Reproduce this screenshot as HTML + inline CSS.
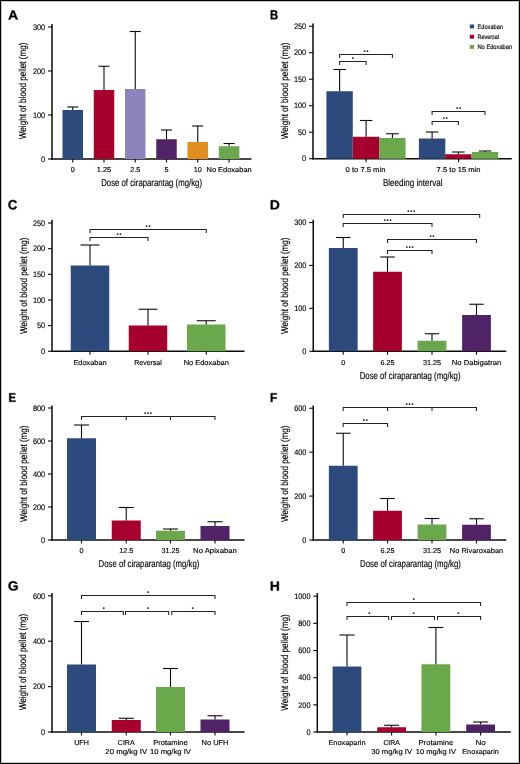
<!DOCTYPE html><html><head><meta charset="utf-8"><style>html,body{margin:0;padding:0;background:#fff}text{stroke:#000;stroke-width:0.15px}svg{display:block;text-rendering:geometricPrecision;will-change:transform;filter:blur(0.3px)}</style></head><body>
<svg width="520" height="764" viewBox="0 0 520 764" font-family="Liberation Sans, sans-serif">
<rect x="0" y="0" width="520" height="764" fill="#fff"/>
<path transform="translate(8.105,19.450) scale(0.006769,-0.006352)" d="M1133 0 1008 360H471L346 0H51L565 1409H913L1425 0ZM739 1192 733 1170Q723 1134 709.0 1088.0Q695 1042 537 582H942L803 987L760 1123Z" fill="#000" stroke="#000" stroke-width="53.35"/>
<line x1="52" y1="24" x2="52" y2="159.75" stroke="#0a0a0a" stroke-width="1.5"/>
<line x1="51.25" y1="159" x2="251.5" y2="159" stroke="#0a0a0a" stroke-width="1.5"/>
<line x1="48" y1="159.0" x2="52" y2="159.0" stroke="#0a0a0a" stroke-width="1.1"/>
<text transform="translate(45.2,161.7) scale(0.92,1)" font-size="8" text-anchor="end" font-weight="normal" fill="#000">0</text>
<line x1="48" y1="115.0" x2="52" y2="115.0" stroke="#0a0a0a" stroke-width="1.1"/>
<text transform="translate(45.2,117.7) scale(0.92,1)" font-size="8" text-anchor="end" font-weight="normal" fill="#000">100</text>
<line x1="48" y1="71.0" x2="52" y2="71.0" stroke="#0a0a0a" stroke-width="1.1"/>
<text transform="translate(45.2,73.7) scale(0.92,1)" font-size="8" text-anchor="end" font-weight="normal" fill="#000">200</text>
<line x1="48" y1="27.0" x2="52" y2="27.0" stroke="#0a0a0a" stroke-width="1.1"/>
<text transform="translate(45.2,29.7) scale(0.92,1)" font-size="8" text-anchor="end" font-weight="normal" fill="#000">300</text>
<rect x="62.5" y="110" width="20.5" height="49" fill="#2d4a7c"/>
<line x1="72.75" y1="107" x2="72.75" y2="110" stroke="#0a0a0a" stroke-width="1.1"/>
<line x1="67.25" y1="107" x2="78.25" y2="107" stroke="#0a0a0a" stroke-width="1.1"/>
<line x1="72.75" y1="159" x2="72.75" y2="162.5" stroke="#0a0a0a" stroke-width="1.1"/>
<text x="72.75" y="172.4" font-size="7.2" text-anchor="middle" font-weight="normal" fill="#000">0</text>
<rect x="93.75" y="90" width="20.5" height="69" fill="#a5002e"/>
<line x1="104" y1="66.25" x2="104" y2="90" stroke="#0a0a0a" stroke-width="1.1"/>
<line x1="98.5" y1="66.25" x2="109.5" y2="66.25" stroke="#0a0a0a" stroke-width="1.1"/>
<line x1="104" y1="159" x2="104" y2="162.5" stroke="#0a0a0a" stroke-width="1.1"/>
<text x="104" y="172.4" font-size="7.2" text-anchor="middle" font-weight="normal" fill="#000" textLength="14.4" lengthAdjust="spacingAndGlyphs">1.25</text>
<rect x="125.0" y="89" width="20.5" height="70" fill="#8c84bd"/>
<line x1="135.25" y1="31.5" x2="135.25" y2="89" stroke="#0a0a0a" stroke-width="1.1"/>
<line x1="129.75" y1="31.5" x2="140.75" y2="31.5" stroke="#0a0a0a" stroke-width="1.1"/>
<line x1="135.25" y1="159" x2="135.25" y2="162.5" stroke="#0a0a0a" stroke-width="1.1"/>
<text x="135.25" y="172.4" font-size="7.2" text-anchor="middle" font-weight="normal" fill="#000">2.5</text>
<rect x="156.25" y="139.25" width="20.5" height="19.75" fill="#4f2366"/>
<line x1="166.5" y1="130" x2="166.5" y2="139.25" stroke="#0a0a0a" stroke-width="1.1"/>
<line x1="161.0" y1="130" x2="172.0" y2="130" stroke="#0a0a0a" stroke-width="1.1"/>
<line x1="166.5" y1="159" x2="166.5" y2="162.5" stroke="#0a0a0a" stroke-width="1.1"/>
<text x="166.5" y="172.4" font-size="7.2" text-anchor="middle" font-weight="normal" fill="#000">5</text>
<rect x="187.5" y="142" width="20.5" height="17" fill="#e08f1f"/>
<line x1="197.75" y1="126" x2="197.75" y2="142" stroke="#0a0a0a" stroke-width="1.1"/>
<line x1="192.25" y1="126" x2="203.25" y2="126" stroke="#0a0a0a" stroke-width="1.1"/>
<line x1="197.75" y1="159" x2="197.75" y2="162.5" stroke="#0a0a0a" stroke-width="1.1"/>
<text x="197.75" y="172.4" font-size="7.2" text-anchor="middle" font-weight="normal" fill="#000">10</text>
<rect x="218.85" y="146.25" width="20.5" height="12.75" fill="#6aa84b"/>
<line x1="229.1" y1="143.5" x2="229.1" y2="146.25" stroke="#0a0a0a" stroke-width="1.1"/>
<line x1="223.6" y1="143.5" x2="234.6" y2="143.5" stroke="#0a0a0a" stroke-width="1.1"/>
<line x1="229.1" y1="159" x2="229.1" y2="162.5" stroke="#0a0a0a" stroke-width="1.1"/>
<text x="229.1" y="172.4" font-size="7.2" text-anchor="middle" font-weight="normal" fill="#000" textLength="45.2" lengthAdjust="spacingAndGlyphs">No Edoxaban</text>
<text x="151.6" y="186.3" font-size="10" text-anchor="middle" fill="#000" textLength="100.8" lengthAdjust="spacingAndGlyphs">Dose of ciraparantag (mg/kg)</text>
<text transform="translate(26.3,90.9) rotate(-90)" font-size="10" text-anchor="middle" fill="#000" textLength="96.5" lengthAdjust="spacingAndGlyphs">Weight of blood pellet (mg)</text>
<path transform="translate(269.993,19.350) scale(0.005524,-0.006458)" d="M1386 402Q1386 210 1242.0 105.0Q1098 0 842 0H137V1409H782Q1040 1409 1172.5 1319.5Q1305 1230 1305 1055Q1305 935 1238.5 852.5Q1172 770 1036 741Q1207 721 1296.5 633.5Q1386 546 1386 402ZM1008 1015Q1008 1110 947.5 1150.0Q887 1190 768 1190H432V841H770Q895 841 951.5 884.5Q1008 928 1008 1015ZM1090 425Q1090 623 806 623H432V219H817Q959 219 1024.5 270.5Q1090 322 1090 425Z" fill="#000" stroke="#000" stroke-width="58.42"/>
<line x1="313" y1="23.5" x2="313" y2="159.5" stroke="#0a0a0a" stroke-width="1.5"/>
<line x1="312.25" y1="158.75" x2="511.75" y2="158.75" stroke="#0a0a0a" stroke-width="1.5"/>
<line x1="309" y1="158.75" x2="313" y2="158.75" stroke="#0a0a0a" stroke-width="1.1"/>
<text transform="translate(306.2,161.45) scale(0.92,1)" font-size="8" text-anchor="end" font-weight="normal" fill="#000">0</text>
<line x1="309" y1="132.25" x2="313" y2="132.25" stroke="#0a0a0a" stroke-width="1.1"/>
<text transform="translate(306.2,134.95) scale(0.92,1)" font-size="8" text-anchor="end" font-weight="normal" fill="#000">50</text>
<line x1="309" y1="105.75" x2="313" y2="105.75" stroke="#0a0a0a" stroke-width="1.1"/>
<text transform="translate(306.2,108.45) scale(0.92,1)" font-size="8" text-anchor="end" font-weight="normal" fill="#000">100</text>
<line x1="309" y1="79.25" x2="313" y2="79.25" stroke="#0a0a0a" stroke-width="1.1"/>
<text transform="translate(306.2,81.95) scale(0.92,1)" font-size="8" text-anchor="end" font-weight="normal" fill="#000">150</text>
<line x1="309" y1="52.75" x2="313" y2="52.75" stroke="#0a0a0a" stroke-width="1.1"/>
<text transform="translate(306.2,55.45) scale(0.92,1)" font-size="8" text-anchor="end" font-weight="normal" fill="#000">200</text>
<line x1="309" y1="26.25" x2="313" y2="26.25" stroke="#0a0a0a" stroke-width="1.1"/>
<text transform="translate(306.2,28.95) scale(0.92,1)" font-size="8" text-anchor="end" font-weight="normal" fill="#000">250</text>
<rect x="326.40000000000003" y="91.25" width="26.4" height="67.5" fill="#2d4a7c"/>
<line x1="339.6" y1="69.5" x2="339.6" y2="91.25" stroke="#0a0a0a" stroke-width="1.1"/>
<line x1="333.35" y1="69.5" x2="345.85" y2="69.5" stroke="#0a0a0a" stroke-width="1.1"/>
<rect x="352.90000000000003" y="136.75" width="26.4" height="22.0" fill="#a5002e"/>
<line x1="366.1" y1="120.5" x2="366.1" y2="136.75" stroke="#0a0a0a" stroke-width="1.1"/>
<line x1="359.85" y1="120.5" x2="372.35" y2="120.5" stroke="#0a0a0a" stroke-width="1.1"/>
<rect x="379.2" y="138" width="26.4" height="20.75" fill="#6aa84b"/>
<line x1="392.4" y1="133.75" x2="392.4" y2="138" stroke="#0a0a0a" stroke-width="1.1"/>
<line x1="386.15" y1="133.75" x2="398.65" y2="133.75" stroke="#0a0a0a" stroke-width="1.1"/>
<rect x="418.90000000000003" y="138.5" width="26.4" height="20.25" fill="#2d4a7c"/>
<line x1="432.1" y1="132" x2="432.1" y2="138.5" stroke="#0a0a0a" stroke-width="1.1"/>
<line x1="425.85" y1="132" x2="438.35" y2="132" stroke="#0a0a0a" stroke-width="1.1"/>
<rect x="445.2" y="154.25" width="26.4" height="4.5" fill="#a5002e"/>
<line x1="458.4" y1="152" x2="458.4" y2="154.25" stroke="#0a0a0a" stroke-width="1.1"/>
<line x1="452.15" y1="152" x2="464.65" y2="152" stroke="#0a0a0a" stroke-width="1.1"/>
<rect x="471.8" y="152" width="26.4" height="6.75" fill="#6aa84b"/>
<line x1="485" y1="151" x2="485" y2="152" stroke="#0a0a0a" stroke-width="1.1"/>
<line x1="478.75" y1="151" x2="491.25" y2="151" stroke="#0a0a0a" stroke-width="1.1"/>
<line x1="366.1" y1="158.75" x2="366.1" y2="162.25" stroke="#0a0a0a" stroke-width="1.1"/>
<line x1="458.6" y1="158.75" x2="458.6" y2="162.25" stroke="#0a0a0a" stroke-width="1.1"/>
<text x="365.5" y="172.4" font-size="7.2" text-anchor="middle" font-weight="normal" fill="#000" textLength="39.8" lengthAdjust="spacingAndGlyphs">0 to 7.5 min</text>
<text x="458.6" y="172.4" font-size="7.2" text-anchor="middle" font-weight="normal" fill="#000" textLength="44" lengthAdjust="spacingAndGlyphs">7.5 to 15 min</text>
<text x="412.7" y="186.3" font-size="10" text-anchor="middle" fill="#000" textLength="59.5" lengthAdjust="spacingAndGlyphs">Bleeding interval</text>
<text transform="translate(288,90.9) rotate(-90)" font-size="10" text-anchor="middle" fill="#000" textLength="96.5" lengthAdjust="spacingAndGlyphs">Weight of blood pellet (mg)</text>
<path d="M339.6,58.0 L339.6,54.5 L392.4,54.5 L392.4,58.0" fill="none" stroke="#222222" stroke-width="1.05"/>
<circle cx="364.55" cy="51.1" r="0.9" fill="#111"/>
<circle cx="367.45" cy="51.1" r="0.9" fill="#111"/>
<path d="M339.6,65.0 L339.6,61.5 L366.1,61.5 L366.1,65.0" fill="none" stroke="#222222" stroke-width="1.05"/>
<circle cx="352.85" cy="58.1" r="0.9" fill="#111"/>
<path d="M432.1,115.0 L432.1,111.5 L485,111.5 L485,115.0" fill="none" stroke="#222222" stroke-width="1.05"/>
<circle cx="457.10" cy="108.1" r="0.9" fill="#111"/>
<circle cx="460.00" cy="108.1" r="0.9" fill="#111"/>
<path d="M432.1,125.0 L432.1,121.5 L458.4,121.5 L458.4,125.0" fill="none" stroke="#222222" stroke-width="1.05"/>
<circle cx="443.80" cy="118.1" r="0.9" fill="#111"/>
<circle cx="446.70" cy="118.1" r="0.9" fill="#111"/>
<rect x="469.8" y="24.5" width="4.3" height="3.9" fill="#2d4a7c"/>
<text x="477.5" y="28.55" font-size="6.4" text-anchor="start" font-weight="normal" fill="#000" textLength="25.5" lengthAdjust="spacingAndGlyphs">Edoxaban</text>
<rect x="469.8" y="34.75" width="4.3" height="3.9" fill="#a5002e"/>
<text x="477.5" y="38.800000000000004" font-size="6.4" text-anchor="start" font-weight="normal" fill="#000" textLength="21.6" lengthAdjust="spacingAndGlyphs">Reversal</text>
<rect x="469.8" y="45.0" width="4.3" height="3.9" fill="#6aa84b"/>
<text x="477.5" y="49.050000000000004" font-size="6.4" text-anchor="start" font-weight="normal" fill="#000" textLength="34.6" lengthAdjust="spacingAndGlyphs">No Edoxaban</text>
<path transform="translate(7.923,209.418) scale(0.006273,-0.006621)" d="M795 212Q1062 212 1166 480L1423 383Q1340 179 1179.5 79.5Q1019 -20 795 -20Q455 -20 269.5 172.5Q84 365 84 711Q84 1058 263.0 1244.0Q442 1430 782 1430Q1030 1430 1186.0 1330.5Q1342 1231 1405 1038L1145 967Q1112 1073 1015.5 1135.5Q919 1198 788 1198Q588 1198 484.5 1074.0Q381 950 381 711Q381 468 487.5 340.0Q594 212 795 212Z" fill="#000" stroke="#000" stroke-width="54.29"/>
<line x1="52" y1="219.8" x2="52" y2="352.0" stroke="#0a0a0a" stroke-width="1.5"/>
<line x1="51.25" y1="351.25" x2="244.5" y2="351.25" stroke="#0a0a0a" stroke-width="1.5"/>
<line x1="48" y1="351.25" x2="52" y2="351.25" stroke="#0a0a0a" stroke-width="1.1"/>
<text transform="translate(45.2,353.95) scale(0.92,1)" font-size="8" text-anchor="end" font-weight="normal" fill="#000">0</text>
<line x1="48" y1="325.6" x2="52" y2="325.6" stroke="#0a0a0a" stroke-width="1.1"/>
<text transform="translate(45.2,328.3) scale(0.92,1)" font-size="8" text-anchor="end" font-weight="normal" fill="#000">50</text>
<line x1="48" y1="299.95" x2="52" y2="299.95" stroke="#0a0a0a" stroke-width="1.1"/>
<text transform="translate(45.2,302.65) scale(0.92,1)" font-size="8" text-anchor="end" font-weight="normal" fill="#000">100</text>
<line x1="48" y1="274.3" x2="52" y2="274.3" stroke="#0a0a0a" stroke-width="1.1"/>
<text transform="translate(45.2,277.0) scale(0.92,1)" font-size="8" text-anchor="end" font-weight="normal" fill="#000">150</text>
<line x1="48" y1="248.64999999999998" x2="52" y2="248.64999999999998" stroke="#0a0a0a" stroke-width="1.1"/>
<text transform="translate(45.2,251.34999999999997) scale(0.92,1)" font-size="8" text-anchor="end" font-weight="normal" fill="#000">200</text>
<line x1="48" y1="223.0" x2="52" y2="223.0" stroke="#0a0a0a" stroke-width="1.1"/>
<text transform="translate(45.2,225.7) scale(0.92,1)" font-size="8" text-anchor="end" font-weight="normal" fill="#000">250</text>
<rect x="70.75" y="265.5" width="38.5" height="85.75" fill="#2d4a7c"/>
<line x1="90" y1="245" x2="90" y2="265.5" stroke="#0a0a0a" stroke-width="1.1"/>
<line x1="80.5" y1="245" x2="99.5" y2="245" stroke="#0a0a0a" stroke-width="1.1"/>
<line x1="90" y1="351.25" x2="90" y2="354.75" stroke="#0a0a0a" stroke-width="1.1"/>
<text x="90" y="364.8" font-size="7.2" text-anchor="middle" font-weight="normal" fill="#000" textLength="33.25" lengthAdjust="spacingAndGlyphs">Edoxaban</text>
<rect x="128.75" y="325.5" width="38.5" height="25.75" fill="#a5002e"/>
<line x1="148" y1="309.25" x2="148" y2="325.5" stroke="#0a0a0a" stroke-width="1.1"/>
<line x1="138.5" y1="309.25" x2="157.5" y2="309.25" stroke="#0a0a0a" stroke-width="1.1"/>
<line x1="148" y1="351.25" x2="148" y2="354.75" stroke="#0a0a0a" stroke-width="1.1"/>
<text x="148" y="364.8" font-size="7.2" text-anchor="middle" font-weight="normal" fill="#000" textLength="27.5" lengthAdjust="spacingAndGlyphs">Reversal</text>
<rect x="187.0" y="324.5" width="38.5" height="26.75" fill="#6aa84b"/>
<line x1="206.25" y1="320.75" x2="206.25" y2="324.5" stroke="#0a0a0a" stroke-width="1.1"/>
<line x1="196.75" y1="320.75" x2="215.75" y2="320.75" stroke="#0a0a0a" stroke-width="1.1"/>
<line x1="206.25" y1="351.25" x2="206.25" y2="354.75" stroke="#0a0a0a" stroke-width="1.1"/>
<text x="206.25" y="364.8" font-size="7.2" text-anchor="middle" font-weight="normal" fill="#000" textLength="45.2" lengthAdjust="spacingAndGlyphs">No Edoxaban</text>
<text transform="translate(26.6,285.7) rotate(-90)" font-size="10" text-anchor="middle" fill="#000" textLength="96.5" lengthAdjust="spacingAndGlyphs">Weight of blood pellet (mg)</text>
<path d="M90,233.0 L90,229.5 L206.25,229.5 L206.25,233.0" fill="none" stroke="#222222" stroke-width="1.05"/>
<circle cx="146.68" cy="226.1" r="0.9" fill="#111"/>
<circle cx="149.57" cy="226.1" r="0.9" fill="#111"/>
<path d="M90,241.0 L90,237.5 L148,237.5 L148,241.0" fill="none" stroke="#222222" stroke-width="1.05"/>
<circle cx="117.55" cy="234.1" r="0.9" fill="#111"/>
<circle cx="120.45" cy="234.1" r="0.9" fill="#111"/>
<path transform="translate(269.823,209.350) scale(0.006768,-0.006458)" d="M1393 715Q1393 497 1307.5 334.5Q1222 172 1065.5 86.0Q909 0 707 0H137V1409H647Q1003 1409 1198.0 1229.5Q1393 1050 1393 715ZM1096 715Q1096 942 978.0 1061.5Q860 1181 641 1181H432V228H682Q872 228 984.0 359.0Q1096 490 1096 715Z" fill="#000" stroke="#000" stroke-width="52.93"/>
<line x1="313.25" y1="219.8" x2="313.25" y2="352.0" stroke="#0a0a0a" stroke-width="1.5"/>
<line x1="312.5" y1="351.25" x2="506.25" y2="351.25" stroke="#0a0a0a" stroke-width="1.5"/>
<line x1="309.25" y1="351.25" x2="313.25" y2="351.25" stroke="#0a0a0a" stroke-width="1.1"/>
<text transform="translate(306.45,353.95) scale(0.92,1)" font-size="8" text-anchor="end" font-weight="normal" fill="#000">0</text>
<line x1="309.25" y1="308.35" x2="313.25" y2="308.35" stroke="#0a0a0a" stroke-width="1.1"/>
<text transform="translate(306.45,311.05) scale(0.92,1)" font-size="8" text-anchor="end" font-weight="normal" fill="#000">100</text>
<line x1="309.25" y1="265.45" x2="313.25" y2="265.45" stroke="#0a0a0a" stroke-width="1.1"/>
<text transform="translate(306.45,268.15) scale(0.92,1)" font-size="8" text-anchor="end" font-weight="normal" fill="#000">200</text>
<line x1="309.25" y1="222.55" x2="313.25" y2="222.55" stroke="#0a0a0a" stroke-width="1.1"/>
<text transform="translate(306.45,225.25) scale(0.92,1)" font-size="8" text-anchor="end" font-weight="normal" fill="#000">300</text>
<rect x="328.875" y="248" width="28.75" height="103.25" fill="#2d4a7c"/>
<line x1="343.25" y1="237.5" x2="343.25" y2="248" stroke="#0a0a0a" stroke-width="1.1"/>
<line x1="336.0" y1="237.5" x2="350.5" y2="237.5" stroke="#0a0a0a" stroke-width="1.1"/>
<line x1="343.25" y1="351.25" x2="343.25" y2="354.75" stroke="#0a0a0a" stroke-width="1.1"/>
<text x="343.25" y="364.8" font-size="7.2" text-anchor="middle" font-weight="normal" fill="#000">0</text>
<rect x="373.125" y="271.75" width="28.75" height="79.5" fill="#a5002e"/>
<line x1="387.5" y1="257" x2="387.5" y2="271.75" stroke="#0a0a0a" stroke-width="1.1"/>
<line x1="380.25" y1="257" x2="394.75" y2="257" stroke="#0a0a0a" stroke-width="1.1"/>
<line x1="387.5" y1="351.25" x2="387.5" y2="354.75" stroke="#0a0a0a" stroke-width="1.1"/>
<text x="387.5" y="364.8" font-size="7.2" text-anchor="middle" font-weight="normal" fill="#000">6.25</text>
<rect x="417.625" y="340.75" width="28.75" height="10.5" fill="#6aa84b"/>
<line x1="432" y1="333.75" x2="432" y2="340.75" stroke="#0a0a0a" stroke-width="1.1"/>
<line x1="424.75" y1="333.75" x2="439.25" y2="333.75" stroke="#0a0a0a" stroke-width="1.1"/>
<line x1="432" y1="351.25" x2="432" y2="354.75" stroke="#0a0a0a" stroke-width="1.1"/>
<text x="432" y="364.8" font-size="7.2" text-anchor="middle" font-weight="normal" fill="#000">31.25</text>
<rect x="462.125" y="315" width="28.75" height="36.25" fill="#4f2366"/>
<line x1="476.5" y1="304.25" x2="476.5" y2="315" stroke="#0a0a0a" stroke-width="1.1"/>
<line x1="469.25" y1="304.25" x2="483.75" y2="304.25" stroke="#0a0a0a" stroke-width="1.1"/>
<line x1="476.5" y1="351.25" x2="476.5" y2="354.75" stroke="#0a0a0a" stroke-width="1.1"/>
<text x="476.5" y="364.8" font-size="7.2" text-anchor="middle" font-weight="normal" fill="#000" textLength="49.5" lengthAdjust="spacingAndGlyphs">No Dabigatran</text>
<text x="410.1" y="378.6" font-size="10" text-anchor="middle" fill="#000" textLength="100.8" lengthAdjust="spacingAndGlyphs">Dose of ciraparantag (mg/kg)</text>
<text transform="translate(288,285.7) rotate(-90)" font-size="10" text-anchor="middle" fill="#000" textLength="96.5" lengthAdjust="spacingAndGlyphs">Weight of blood pellet (mg)</text>
<path d="M343.25,218.0 L343.25,214.5 L479.7,214.5 L479.7,218.0" fill="none" stroke="#222222" stroke-width="1.05"/>
<circle cx="408.30" cy="211.1" r="0.9" fill="#111"/>
<circle cx="411.20" cy="211.1" r="0.9" fill="#111"/>
<circle cx="414.10" cy="211.1" r="0.9" fill="#111"/>
<path d="M343.25,227.0 L343.25,223.5 L432,223.5 L432,227.0" fill="none" stroke="#222222" stroke-width="1.05"/>
<circle cx="384.73" cy="220.1" r="0.9" fill="#111"/>
<circle cx="387.62" cy="220.1" r="0.9" fill="#111"/>
<circle cx="390.52" cy="220.1" r="0.9" fill="#111"/>
<path d="M387.5,243.0 L387.5,239.5 L476.5,239.5 L476.5,243.0" fill="none" stroke="#222222" stroke-width="1.05"/>
<circle cx="430.55" cy="236.1" r="0.9" fill="#111"/>
<circle cx="433.45" cy="236.1" r="0.9" fill="#111"/>
<path d="M387.5,254.0 L387.5,250.5 L432,250.5 L432,254.0" fill="none" stroke="#222222" stroke-width="1.05"/>
<circle cx="406.85" cy="247.1" r="0.9" fill="#111"/>
<circle cx="409.75" cy="247.1" r="0.9" fill="#111"/>
<circle cx="412.65" cy="247.1" r="0.9" fill="#111"/>
<path transform="translate(8.499,401.850) scale(0.005483,-0.006175)" d="M137 0V1409H1245V1181H432V827H1184V599H432V228H1286V0Z" fill="#000" stroke="#000" stroke-width="60.05"/>
<line x1="52" y1="405.5" x2="52" y2="540.75" stroke="#0a0a0a" stroke-width="1.5"/>
<line x1="51.25" y1="540" x2="244.5" y2="540" stroke="#0a0a0a" stroke-width="1.5"/>
<line x1="48" y1="540.0" x2="52" y2="540.0" stroke="#0a0a0a" stroke-width="1.1"/>
<text transform="translate(45.2,542.7) scale(0.92,1)" font-size="8" text-anchor="end" font-weight="normal" fill="#000">0</text>
<line x1="48" y1="507.0" x2="52" y2="507.0" stroke="#0a0a0a" stroke-width="1.1"/>
<text transform="translate(45.2,509.7) scale(0.92,1)" font-size="8" text-anchor="end" font-weight="normal" fill="#000">200</text>
<line x1="48" y1="474.0" x2="52" y2="474.0" stroke="#0a0a0a" stroke-width="1.1"/>
<text transform="translate(45.2,476.7) scale(0.92,1)" font-size="8" text-anchor="end" font-weight="normal" fill="#000">400</text>
<line x1="48" y1="441.0" x2="52" y2="441.0" stroke="#0a0a0a" stroke-width="1.1"/>
<text transform="translate(45.2,443.7) scale(0.92,1)" font-size="8" text-anchor="end" font-weight="normal" fill="#000">600</text>
<line x1="48" y1="408.0" x2="52" y2="408.0" stroke="#0a0a0a" stroke-width="1.1"/>
<text transform="translate(45.2,410.7) scale(0.92,1)" font-size="8" text-anchor="end" font-weight="normal" fill="#000">800</text>
<rect x="67.0" y="438.25" width="29" height="101.75" fill="#2d4a7c"/>
<line x1="81.5" y1="425" x2="81.5" y2="438.25" stroke="#0a0a0a" stroke-width="1.1"/>
<line x1="74.0" y1="425" x2="89.0" y2="425" stroke="#0a0a0a" stroke-width="1.1"/>
<line x1="81.5" y1="540" x2="81.5" y2="543.5" stroke="#0a0a0a" stroke-width="1.1"/>
<text x="81.5" y="553" font-size="7.2" text-anchor="middle" font-weight="normal" fill="#000">0</text>
<rect x="111.75" y="520.5" width="29" height="19.5" fill="#a5002e"/>
<line x1="126.25" y1="507.5" x2="126.25" y2="520.5" stroke="#0a0a0a" stroke-width="1.1"/>
<line x1="118.75" y1="507.5" x2="133.75" y2="507.5" stroke="#0a0a0a" stroke-width="1.1"/>
<line x1="126.25" y1="540" x2="126.25" y2="543.5" stroke="#0a0a0a" stroke-width="1.1"/>
<text x="126.25" y="553" font-size="7.2" text-anchor="middle" font-weight="normal" fill="#000">12.5</text>
<rect x="156.0" y="530.75" width="29" height="9.25" fill="#6aa84b"/>
<line x1="170.5" y1="529" x2="170.5" y2="530.75" stroke="#0a0a0a" stroke-width="1.1"/>
<line x1="163.0" y1="529" x2="178.0" y2="529" stroke="#0a0a0a" stroke-width="1.1"/>
<line x1="170.5" y1="540" x2="170.5" y2="543.5" stroke="#0a0a0a" stroke-width="1.1"/>
<text x="170.5" y="553" font-size="7.2" text-anchor="middle" font-weight="normal" fill="#000">31.25</text>
<rect x="200.5" y="526" width="29" height="14" fill="#4f2366"/>
<line x1="215" y1="521.75" x2="215" y2="526" stroke="#0a0a0a" stroke-width="1.1"/>
<line x1="207.5" y1="521.75" x2="222.5" y2="521.75" stroke="#0a0a0a" stroke-width="1.1"/>
<line x1="215" y1="540" x2="215" y2="543.5" stroke="#0a0a0a" stroke-width="1.1"/>
<text x="215" y="553" font-size="7.2" text-anchor="middle" font-weight="normal" fill="#000" textLength="43.8" lengthAdjust="spacingAndGlyphs">No Apixaban</text>
<text x="149" y="566.7" font-size="10" text-anchor="middle" fill="#000" textLength="100.8" lengthAdjust="spacingAndGlyphs">Dose of ciraparantag (mg/kg)</text>
<text transform="translate(26.6,473.7) rotate(-90)" font-size="10" text-anchor="middle" fill="#000" textLength="96.5" lengthAdjust="spacingAndGlyphs">Weight of blood pellet (mg)</text>
<path d="M81.5,420.0 L81.5,416.5 L215,416.5 L215,420.0 M126.25,416.5 L126.25,420.0 M170.5,416.5 L170.5,420.0" fill="none" stroke="#222222" stroke-width="1.05"/>
<circle cx="145.10" cy="413.1" r="0.9" fill="#111"/>
<circle cx="148.00" cy="413.1" r="0.9" fill="#111"/>
<circle cx="150.90" cy="413.1" r="0.9" fill="#111"/>
<path transform="translate(269.959,401.950) scale(0.005775,-0.006246)" d="M432 1181V745H1153V517H432V0H137V1409H1176V1181Z" fill="#000" stroke="#000" stroke-width="58.23"/>
<line x1="313.25" y1="405.5" x2="313.25" y2="540.75" stroke="#0a0a0a" stroke-width="1.5"/>
<line x1="312.5" y1="540" x2="506.25" y2="540" stroke="#0a0a0a" stroke-width="1.5"/>
<line x1="309.25" y1="540.0" x2="313.25" y2="540.0" stroke="#0a0a0a" stroke-width="1.1"/>
<text transform="translate(306.45,542.7) scale(0.92,1)" font-size="8" text-anchor="end" font-weight="normal" fill="#000">0</text>
<line x1="309.25" y1="496.08" x2="313.25" y2="496.08" stroke="#0a0a0a" stroke-width="1.1"/>
<text transform="translate(306.45,498.78) scale(0.92,1)" font-size="8" text-anchor="end" font-weight="normal" fill="#000">200</text>
<line x1="309.25" y1="452.16" x2="313.25" y2="452.16" stroke="#0a0a0a" stroke-width="1.1"/>
<text transform="translate(306.45,454.86) scale(0.92,1)" font-size="8" text-anchor="end" font-weight="normal" fill="#000">400</text>
<line x1="309.25" y1="408.24" x2="313.25" y2="408.24" stroke="#0a0a0a" stroke-width="1.1"/>
<text transform="translate(306.45,410.94) scale(0.92,1)" font-size="8" text-anchor="end" font-weight="normal" fill="#000">600</text>
<rect x="328.875" y="465.75" width="28.75" height="74.25" fill="#2d4a7c"/>
<line x1="343.25" y1="433.25" x2="343.25" y2="465.75" stroke="#0a0a0a" stroke-width="1.1"/>
<line x1="336.0" y1="433.25" x2="350.5" y2="433.25" stroke="#0a0a0a" stroke-width="1.1"/>
<line x1="343.25" y1="540" x2="343.25" y2="543.5" stroke="#0a0a0a" stroke-width="1.1"/>
<text x="343.25" y="553" font-size="7.2" text-anchor="middle" font-weight="normal" fill="#000">0</text>
<rect x="373.125" y="510.75" width="28.75" height="29.25" fill="#a5002e"/>
<line x1="387.5" y1="498.5" x2="387.5" y2="510.75" stroke="#0a0a0a" stroke-width="1.1"/>
<line x1="380.25" y1="498.5" x2="394.75" y2="498.5" stroke="#0a0a0a" stroke-width="1.1"/>
<line x1="387.5" y1="540" x2="387.5" y2="543.5" stroke="#0a0a0a" stroke-width="1.1"/>
<text x="387.5" y="553" font-size="7.2" text-anchor="middle" font-weight="normal" fill="#000">6.25</text>
<rect x="417.625" y="524.5" width="28.75" height="15.5" fill="#6aa84b"/>
<line x1="432" y1="518.5" x2="432" y2="524.5" stroke="#0a0a0a" stroke-width="1.1"/>
<line x1="424.75" y1="518.5" x2="439.25" y2="518.5" stroke="#0a0a0a" stroke-width="1.1"/>
<line x1="432" y1="540" x2="432" y2="543.5" stroke="#0a0a0a" stroke-width="1.1"/>
<text x="432" y="553" font-size="7.2" text-anchor="middle" font-weight="normal" fill="#000">31.25</text>
<rect x="462.125" y="524.75" width="28.75" height="15.25" fill="#4f2366"/>
<line x1="476.5" y1="518.75" x2="476.5" y2="524.75" stroke="#0a0a0a" stroke-width="1.1"/>
<line x1="469.25" y1="518.75" x2="483.75" y2="518.75" stroke="#0a0a0a" stroke-width="1.1"/>
<line x1="476.5" y1="540" x2="476.5" y2="543.5" stroke="#0a0a0a" stroke-width="1.1"/>
<text x="476.5" y="553" font-size="7.2" text-anchor="middle" font-weight="normal" fill="#000" textLength="53.4" lengthAdjust="spacingAndGlyphs">No Rivaroxaban</text>
<text x="410.5" y="566.7" font-size="10" text-anchor="middle" fill="#000" textLength="100.8" lengthAdjust="spacingAndGlyphs">Dose of ciraparantag (mg/kg)</text>
<text transform="translate(288,473.7) rotate(-90)" font-size="10" text-anchor="middle" fill="#000" textLength="96.5" lengthAdjust="spacingAndGlyphs">Weight of blood pellet (mg)</text>
<path d="M343.25,411.0 L343.25,407.5 L476.5,407.5 L476.5,411.0 M387.5,407.5 L387.5,411.0 M432,407.5 L432,411.0" fill="none" stroke="#222222" stroke-width="1.05"/>
<circle cx="406.60" cy="404.1" r="0.9" fill="#111"/>
<circle cx="409.50" cy="404.1" r="0.9" fill="#111"/>
<circle cx="412.40" cy="404.1" r="0.9" fill="#111"/>
<path d="M343.25,427.0 L343.25,423.5 L387.5,423.5 L387.5,427.0" fill="none" stroke="#222222" stroke-width="1.05"/>
<circle cx="363.93" cy="420.1" r="0.9" fill="#111"/>
<circle cx="366.82" cy="420.1" r="0.9" fill="#111"/>
<path transform="translate(7.891,590.420) scale(0.006657,-0.006483)" d="M806 211Q921 211 1029.0 244.5Q1137 278 1196 330V525H852V743H1466V225Q1354 110 1174.5 45.0Q995 -20 798 -20Q454 -20 269.0 170.5Q84 361 84 711Q84 1059 270.0 1244.5Q456 1430 805 1430Q1301 1430 1436 1063L1164 981Q1120 1088 1026.0 1143.0Q932 1198 805 1198Q597 1198 489.0 1072.0Q381 946 381 711Q381 472 492.5 341.5Q604 211 806 211Z" fill="#000" stroke="#000" stroke-width="53.27"/>
<line x1="52" y1="593" x2="52" y2="732.75" stroke="#0a0a0a" stroke-width="1.5"/>
<line x1="51.25" y1="732" x2="244.5" y2="732" stroke="#0a0a0a" stroke-width="1.5"/>
<line x1="48" y1="732.0" x2="52" y2="732.0" stroke="#0a0a0a" stroke-width="1.1"/>
<text transform="translate(45.2,734.7) scale(0.92,1)" font-size="8" text-anchor="end" font-weight="normal" fill="#000">0</text>
<line x1="48" y1="686.6" x2="52" y2="686.6" stroke="#0a0a0a" stroke-width="1.1"/>
<text transform="translate(45.2,689.3000000000001) scale(0.92,1)" font-size="8" text-anchor="end" font-weight="normal" fill="#000">200</text>
<line x1="48" y1="641.2" x2="52" y2="641.2" stroke="#0a0a0a" stroke-width="1.1"/>
<text transform="translate(45.2,643.9000000000001) scale(0.92,1)" font-size="8" text-anchor="end" font-weight="normal" fill="#000">400</text>
<line x1="48" y1="595.8" x2="52" y2="595.8" stroke="#0a0a0a" stroke-width="1.1"/>
<text transform="translate(45.2,598.5) scale(0.92,1)" font-size="8" text-anchor="end" font-weight="normal" fill="#000">600</text>
<rect x="67.0" y="664.5" width="29" height="67.5" fill="#2d4a7c"/>
<line x1="81.5" y1="621.5" x2="81.5" y2="664.5" stroke="#0a0a0a" stroke-width="1.1"/>
<line x1="74.0" y1="621.5" x2="89.0" y2="621.5" stroke="#0a0a0a" stroke-width="1.1"/>
<line x1="81.5" y1="732" x2="81.5" y2="735.5" stroke="#0a0a0a" stroke-width="1.1"/>
<text x="81.5" y="745" font-size="7.2" text-anchor="middle" font-weight="normal" fill="#000" textLength="14.6" lengthAdjust="spacingAndGlyphs">UFH</text>
<rect x="111.75" y="720" width="29" height="12" fill="#a5002e"/>
<line x1="126.25" y1="718.25" x2="126.25" y2="720" stroke="#0a0a0a" stroke-width="1.1"/>
<line x1="118.75" y1="718.25" x2="133.75" y2="718.25" stroke="#0a0a0a" stroke-width="1.1"/>
<line x1="126.25" y1="732" x2="126.25" y2="735.5" stroke="#0a0a0a" stroke-width="1.1"/>
<text x="126.25" y="745" font-size="7.2" text-anchor="middle" font-weight="normal" fill="#000" textLength="16.8" lengthAdjust="spacingAndGlyphs">CIRA</text>
<text x="126.25" y="754.2" font-size="7.2" text-anchor="middle" font-weight="normal" fill="#000" textLength="42" lengthAdjust="spacingAndGlyphs">20 mg/kg IV</text>
<rect x="156.0" y="687" width="29" height="45" fill="#6aa84b"/>
<line x1="170.5" y1="668.5" x2="170.5" y2="687" stroke="#0a0a0a" stroke-width="1.1"/>
<line x1="163.0" y1="668.5" x2="178.0" y2="668.5" stroke="#0a0a0a" stroke-width="1.1"/>
<line x1="170.5" y1="732" x2="170.5" y2="735.5" stroke="#0a0a0a" stroke-width="1.1"/>
<text x="170.5" y="745" font-size="7.2" text-anchor="middle" font-weight="normal" fill="#000" textLength="34.7" lengthAdjust="spacingAndGlyphs">Protamine</text>
<text x="170.5" y="754.2" font-size="7.2" text-anchor="middle" font-weight="normal" fill="#000" textLength="40.9" lengthAdjust="spacingAndGlyphs">10 mg/kg IV</text>
<rect x="200.5" y="719.5" width="29" height="12.5" fill="#4f2366"/>
<line x1="215" y1="715.75" x2="215" y2="719.5" stroke="#0a0a0a" stroke-width="1.1"/>
<line x1="207.5" y1="715.75" x2="222.5" y2="715.75" stroke="#0a0a0a" stroke-width="1.1"/>
<line x1="215" y1="732" x2="215" y2="735.5" stroke="#0a0a0a" stroke-width="1.1"/>
<text x="215" y="745" font-size="7.2" text-anchor="middle" font-weight="normal" fill="#000" textLength="27" lengthAdjust="spacingAndGlyphs">No UFH</text>
<text transform="translate(26.3,662) rotate(-90)" font-size="10" text-anchor="middle" fill="#000" textLength="96.5" lengthAdjust="spacingAndGlyphs">Weight of blood pellet (mg)</text>
<path d="M81.5,599.0 L81.5,595.5 L215,595.5 L215,599.0" fill="none" stroke="#222222" stroke-width="1.05"/>
<circle cx="148.25" cy="592.1" r="0.9" fill="#111"/>
<path d="M81.5,615.0 L81.5,611.5 L123.3,611.5 L123.3,615.0" fill="none" stroke="#222222" stroke-width="1.05"/>
<circle cx="103.80" cy="608.1" r="0.9" fill="#111"/>
<path d="M125.5,615.0 L125.5,611.5 L168.7,611.5 L168.7,615.0" fill="none" stroke="#222222" stroke-width="1.05"/>
<circle cx="148.00" cy="608.1" r="0.9" fill="#111"/>
<path d="M171.8,615.0 L171.8,611.5 L215,611.5 L215,615.0" fill="none" stroke="#222222" stroke-width="1.05"/>
<circle cx="192.70" cy="608.1" r="0.9" fill="#111"/>
<path transform="translate(269.828,590.550) scale(0.006728,-0.006458)" d="M1046 0V604H432V0H137V1409H432V848H1046V1409H1341V0Z" fill="#000" stroke="#000" stroke-width="53.09"/>
<line x1="317.3" y1="593" x2="317.3" y2="732.75" stroke="#0a0a0a" stroke-width="1.5"/>
<line x1="316.55" y1="732" x2="510.75" y2="732" stroke="#0a0a0a" stroke-width="1.5"/>
<line x1="313.3" y1="732.0" x2="317.3" y2="732.0" stroke="#0a0a0a" stroke-width="1.1"/>
<text transform="translate(310.5,734.7) scale(0.92,1)" font-size="8" text-anchor="end" font-weight="normal" fill="#000">0</text>
<line x1="313.3" y1="704.84" x2="317.3" y2="704.84" stroke="#0a0a0a" stroke-width="1.1"/>
<text transform="translate(310.5,707.5400000000001) scale(0.92,1)" font-size="8" text-anchor="end" font-weight="normal" fill="#000">200</text>
<line x1="313.3" y1="677.68" x2="317.3" y2="677.68" stroke="#0a0a0a" stroke-width="1.1"/>
<text transform="translate(310.5,680.38) scale(0.92,1)" font-size="8" text-anchor="end" font-weight="normal" fill="#000">400</text>
<line x1="313.3" y1="650.52" x2="317.3" y2="650.52" stroke="#0a0a0a" stroke-width="1.1"/>
<text transform="translate(310.5,653.22) scale(0.92,1)" font-size="8" text-anchor="end" font-weight="normal" fill="#000">600</text>
<line x1="313.3" y1="623.36" x2="317.3" y2="623.36" stroke="#0a0a0a" stroke-width="1.1"/>
<text transform="translate(310.5,626.0600000000001) scale(0.92,1)" font-size="8" text-anchor="end" font-weight="normal" fill="#000">800</text>
<line x1="313.3" y1="596.2" x2="317.3" y2="596.2" stroke="#0a0a0a" stroke-width="1.1"/>
<text transform="translate(310.5,598.9000000000001) scale(0.92,1)" font-size="8" text-anchor="end" font-weight="normal" fill="#000">1000</text>
<rect x="332.625" y="666.5" width="28.75" height="65.5" fill="#2d4a7c"/>
<line x1="347" y1="635" x2="347" y2="666.5" stroke="#0a0a0a" stroke-width="1.1"/>
<line x1="339.5" y1="635" x2="354.5" y2="635" stroke="#0a0a0a" stroke-width="1.1"/>
<line x1="347" y1="732" x2="347" y2="735.5" stroke="#0a0a0a" stroke-width="1.1"/>
<text x="347" y="745" font-size="7.2" text-anchor="middle" font-weight="normal" fill="#000" textLength="37.2" lengthAdjust="spacingAndGlyphs">Enoxaparin</text>
<rect x="377.225" y="727.25" width="28.75" height="4.75" fill="#a5002e"/>
<line x1="391.6" y1="725.25" x2="391.6" y2="727.25" stroke="#0a0a0a" stroke-width="1.1"/>
<line x1="384.1" y1="725.25" x2="399.1" y2="725.25" stroke="#0a0a0a" stroke-width="1.1"/>
<line x1="391.6" y1="732" x2="391.6" y2="735.5" stroke="#0a0a0a" stroke-width="1.1"/>
<text x="391.6" y="745" font-size="7.2" text-anchor="middle" font-weight="normal" fill="#000" textLength="16.4" lengthAdjust="spacingAndGlyphs">CIRA</text>
<text x="391.6" y="754.2" font-size="7.2" text-anchor="middle" font-weight="normal" fill="#000" textLength="40.9" lengthAdjust="spacingAndGlyphs">30 mg/kg IV</text>
<rect x="421.525" y="664.25" width="28.75" height="67.75" fill="#6aa84b"/>
<line x1="435.9" y1="627.5" x2="435.9" y2="664.25" stroke="#0a0a0a" stroke-width="1.1"/>
<line x1="428.4" y1="627.5" x2="443.4" y2="627.5" stroke="#0a0a0a" stroke-width="1.1"/>
<line x1="435.9" y1="732" x2="435.9" y2="735.5" stroke="#0a0a0a" stroke-width="1.1"/>
<text x="435.9" y="745" font-size="7.2" text-anchor="middle" font-weight="normal" fill="#000" textLength="34.7" lengthAdjust="spacingAndGlyphs">Protamine</text>
<text x="435.9" y="754.2" font-size="7.2" text-anchor="middle" font-weight="normal" fill="#000" textLength="40.2" lengthAdjust="spacingAndGlyphs">10 mg/kg IV</text>
<rect x="466.225" y="724.5" width="28.75" height="7.5" fill="#4f2366"/>
<line x1="480.6" y1="722" x2="480.6" y2="724.5" stroke="#0a0a0a" stroke-width="1.1"/>
<line x1="473.1" y1="722" x2="488.1" y2="722" stroke="#0a0a0a" stroke-width="1.1"/>
<line x1="480.6" y1="732" x2="480.6" y2="735.5" stroke="#0a0a0a" stroke-width="1.1"/>
<text x="480.6" y="745" font-size="7.2" text-anchor="middle" font-weight="normal" fill="#000" textLength="10.3" lengthAdjust="spacingAndGlyphs">No</text>
<text x="480.6" y="754.2" font-size="7.2" text-anchor="middle" font-weight="normal" fill="#000" textLength="36.6" lengthAdjust="spacingAndGlyphs">Enoxaparin</text>
<text transform="translate(287.9,662.5) rotate(-90)" font-size="10" text-anchor="middle" fill="#000" textLength="96.5" lengthAdjust="spacingAndGlyphs">Weight of blood pellet (mg)</text>
<path d="M347,606.0 L347,602.5 L480.6,602.5 L480.6,606.0" fill="none" stroke="#222222" stroke-width="1.05"/>
<circle cx="413.80" cy="599.1" r="0.9" fill="#111"/>
<path d="M347,620.0 L347,616.5 L388.7,616.5 L388.7,620.0" fill="none" stroke="#222222" stroke-width="1.05"/>
<circle cx="369.30" cy="613.1" r="0.9" fill="#111"/>
<path d="M391.5,620.0 L391.5,616.5 L434.5,616.5 L434.5,620.0" fill="none" stroke="#222222" stroke-width="1.05"/>
<circle cx="413.70" cy="613.1" r="0.9" fill="#111"/>
<path d="M437.5,620.0 L437.5,616.5 L480.6,616.5 L480.6,620.0" fill="none" stroke="#222222" stroke-width="1.05"/>
<circle cx="458.30" cy="613.1" r="0.9" fill="#111"/>
<rect x="1.5" y="1.5" width="517" height="761" fill="none" stroke="#c8c8c8" stroke-width="1"/>
<rect x="0.5" y="0.5" width="519" height="763" fill="none" stroke="#000" stroke-width="1"/>
</svg></body></html>
